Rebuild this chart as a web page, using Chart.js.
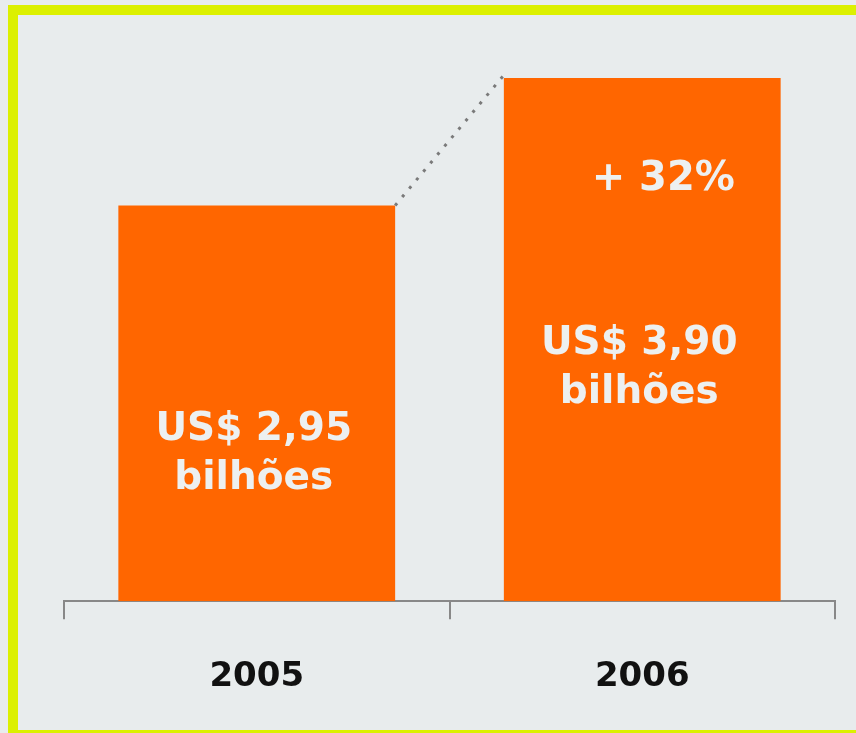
<!DOCTYPE html>
<html lang="pt">
<head>
<meta charset="UTF-8">
<title>Receita 2005 x 2006</title>
<script src="https://cdn.jsdelivr.net/npm/chart.js"></script>
<style>
    html, body { margin: 0; padding: 0; background: #e8eced; overflow: hidden; }
    .moldura {
        position: absolute; left: 8px; top: 5px; width: 900px; height: 735px;
        box-sizing: border-box; border: 10px solid #dcf000; border-right: none;
    }
    #grafico { position: absolute; left: 0; top: 0; }
</style>
</head>
<body>
<div class="moldura"></div>
<canvas id="grafico" width="856" height="733"></canvas>

<script>
    // dados
    const anos = ['2005', '2006'];
    const valores = [2.95, 3.90];
    const rotulos = [['US$ 2,95', 'bilhões'], ['US$ 3,90', 'bilhões']];
    const crescimento = '+ 32%';

    const fonte = 'DejaVu Sans, Verdana, sans-serif';

    // textos dentro das barras e linha pontilhada
    const textosBarras = {
        id: 'textosBarras',
        afterDatasetsDraw(chart) {
            const ctx = chart.ctx;
            const y = chart.scales.y;
            const barras = chart.getDatasetMeta(0).data;
            const basesLinha1 = [1.2, 1.84];

            ctx.save();
            // linha pontilhada entre os topos
            const b1 = barras[0], b2 = barras[1];
            ctx.strokeStyle = '#7a7a7a';
            ctx.lineWidth = 3;
            ctx.setLineDash([3, 8]);
            ctx.beginPath();
            ctx.moveTo(b1.x + b1.width / 2, b1.y);
            ctx.lineTo(b2.x - b2.width / 2, b2.y - 3);
            ctx.stroke();
            ctx.setLineDash([]);

            ctx.fillStyle = '#edf0f0';
            ctx.textAlign = 'center';
            ctx.textBaseline = 'alphabetic';
            ctx.font = 'bold 39px ' + fonte;
            barras.forEach((b, i) => {
                const yb = y.getPixelForValue(basesLinha1[i]);
                ctx.fillText(rotulos[i][0], b.x - 3, yb);
                ctx.fillText(rotulos[i][1], b.x - 3, yb + 49);
            });

            ctx.font = 'bold 40px ' + fonte;
            ctx.fillText(crescimento, b2.x + 21, y.getPixelForValue(3.066));
            ctx.restore();
        }
    };

    new Chart(document.getElementById('grafico'), {
        type: 'bar',
        data: {
            labels: anos,
            datasets: [{
                data: valores,
                backgroundColor: '#ff6600',
                barPercentage: 0.718,
                categoryPercentage: 1
            }]
        },
        options: {
            responsive: false,
            devicePixelRatio: 1,
            animation: false,
            layout: { padding: { left: 64, right: 21, top: 11, bottom: -3 } },
            plugins: {
                legend: { display: false },
                tooltip: { enabled: false }
            },
            scales: {
                x: {
                    grid: {
                        drawOnChartArea: false,
                        drawTicks: true,
                        tickLength: 18,
                        color: '#888888',
                        lineWidth: 2
                    },
                    border: { color: '#888888', width: 2 },
                    ticks: {
                        color: '#111111',
                        padding: 38,
                        font: { family: fonte, size: 34, weight: 'bold' }
                    }
                },
                y: {
                    display: false,
                    min: 0,
                    max: 4.4
                }
            }
        },
        plugins: [textosBarras]
    });
</script>
</body>
</html>
